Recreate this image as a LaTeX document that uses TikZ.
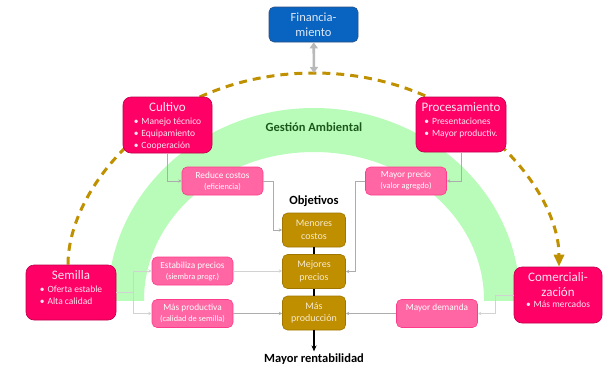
\documentclass[tikz,border=0pt]{standalone}
\usepackage{fontspec}
\setmainfont{Carlito}
\usepackage{tikz}
\usetikzlibrary{arrows.meta,backgrounds}

\definecolor{pinkmain}{RGB}{255,0,102}
\definecolor{pinkedge}{RGB}{190,0,75}
\definecolor{pinktext}{RGB}{255,228,240}
\definecolor{pinklight}{RGB}{255,102,163}
\definecolor{pinkline}{RGB}{255,60,140}
\definecolor{goldbox}{RGB}{191,143,0}
\definecolor{goldedge}{RGB}{160,118,0}
\definecolor{goldtext}{RGB}{248,234,205}
\definecolor{bluebox}{RGB}{8,99,193}
\definecolor{blueedge}{RGB}{47,82,130}
\definecolor{bluetext}{RGB}{221,232,246}
\definecolor{greenband}{RGB}{185,252,185}
\definecolor{greentext}{RGB}{28,88,28}
\definecolor{dashgold}{RGB}{191,144,0}

\tikzset{
  mainbox/.style={draw=pinkedge, line width=0.6pt, fill=pinkmain, text=pinktext,
                  rounded corners=8pt, inner sep=0pt},
  lightbox/.style={draw=pinkline, line width=0.6pt, fill=pinklight, text=white,
                   rounded corners=5pt, inner sep=0pt, align=center,
                   minimum width=81pt, minimum height=28pt,
                   font=\fontsize{9.3}{11}\selectfont},
  goalbox/.style={draw=goldedge, line width=0.6pt, fill=goldbox, text=goldtext,
                  rounded corners=5pt, inner sep=0pt, align=center,
                  minimum width=63pt, minimum height=34pt,
                  font=\fontsize{10}{12.4}\selectfont},
  finbox/.style={draw=blueedge, line width=0.6pt, fill=bluebox, text=bluetext,
                 rounded corners=5pt, inner sep=0pt, align=center,
                 minimum width=89pt, minimum height=35pt,
                 font=\fontsize{12.5}{15}\selectfont},
  heading/.style={font=\bfseries\fontsize{12.5}{15}\selectfont, inner sep=2pt},
  link/.style={draw=gray!65, line width=0.7pt, -{Stealth[length=3.5pt,width=3.5pt]}},
  linklight/.style={link, draw=gray!35},
  goalline/.style={draw=black, line width=1.4pt},
  finarrow/.style={draw=gray!55, line width=2.6pt,
                   {Triangle[length=6pt,width=8pt]}-{Triangle[length=6pt,width=8pt]}},
  dasharc/.style={draw=dashgold, line width=3pt, dash pattern=on 8pt off 6pt,
                  -{Triangle[length=12pt,width=10pt]}}
}

\newcommand{\cardtext}[5]{%
  \parbox[c][#2][t]{#1}{\centering\fontsize{13}{15}\selectfont
    \rule{0pt}{14pt}#3\par\vspace{#4}%
    {\fontsize{9.5}{11.7}\selectfont\begin{tabular}[t]{@{}l@{}}#5\end{tabular}\par}}}
\newcommand{\itm}{\textbullet\hspace{3pt}}
\newcommand{\subline}[1]{{\fontsize{8.3}{10}\selectfont #1}}

\begin{document}
\begin{tikzpicture}[x=1pt, y=-1pt]
        \useasboundingbox (0,0) rectangle (603,370);

        \node[finbox]   (fin)      at (313.5,24.5) {Financia-\\miento};            %Finanzas
        \coordinate     (arctop)   at (314,73);                                    %

        \node[mainbox]  (cultivo)  at (167.5,125)  {\cardtext{89pt}{56pt}{Cultivo}{2pt}%
                          {\itm Manejo técnico\\ \itm Equipamiento\\ \itm Cooperación}};
        \node[mainbox]  (proc)     at (461,124.5)  {\cardtext{90pt}{55pt}{Procesamiento}{1.6pt}%
                          {\itm Presentaciones\\ \itm Mayor productiv.}};
        \node[mainbox]  (semilla)  at (71,292.5)   {\cardtext{90pt}{55pt}{Semilla}{2pt}%
                          {\itm Oferta estable\\ \itm Alta calidad}};
        \node[mainbox]  (comer)    at (558,295)    {\cardtext{88pt}{56pt}{Comerciali-\\zación}{0pt}%
                          {\itm Más mercados}};

        \node[lightbox] (reduce)   at (222.5,181)  {Reduce costos\\\subline{(eficiencia)}};
        \node[lightbox] (precio)   at (406,181)    {Mayor precio\\\subline{(valor agregdo)}};
        \node[lightbox] (estab)    at (192.5,271)  {Estabiliza precios\\\subline{(siembra progr.)}};
        \node[lightbox] (masprod)  at (192.5,313.5){Más productiva\\\subline{(calidad de semilla)}};
        \node[lightbox] (demanda)  at (437,313.5)  {Mayor demanda\\\subline{\phantom{(x)}}};

        \node[heading, text=greentext] (gestion) at (314,127) {Gestión Ambiental};  %
        \node[heading]  (objetivos) at (314,201)   {Objetivos};                      %
        \node[goalbox]  (menores)  at (314,230)    {Menores\\costos};                %
        \node[goalbox]  (mejores)  at (314,271.5)  {Mejores\\precios};               %
        \node[goalbox]  (produccion) at (314,313)  {Más\\producción};                %
        \node[heading]  (rent)     at (314,359)    {Mayor rentabilidad};             %

        \begin{scope}[on background layer]
          \begin{scope}
            \clip (0,0) rectangle (603,300);
            \fill[greenband, even odd rule] (314,300) ellipse [x radius=206, y radius=192]
                                            (314,300) ellipse [x radius=170, y radius=148];
          \end{scope}
          \draw[dasharc] ([xshift=-3pt]semilla.north) .. controls +(0,-80) and +(-150,0) .. (arctop)
                         .. controls +(150,0) and +(0,-80) .. ([xshift=1pt]comer.north);
        \end{scope}

        \draw[finarrow]  (fin) -- (arctop);                                          %
        \draw[link]      (cultivo) |- (reduce);                                      %
        \draw[link]      (proc) |- (precio);                                         %
        \draw[link]      (reduce.east) -- ++(10,0) |- (menores);                     %
        \draw[link]      (precio.west) -- ++(-10,0) |- (mejores);                    %
        \draw[linklight] (semilla.east) -- ++(17,0) |- (estab);                      %
        \draw[linklight] (semilla.east) -- ++(17,0) |- (masprod);                    %
        \draw[linklight] (estab.east) -- (estab.east -| mejores.west);               %
        \draw[link]      (masprod.east) -- (masprod.east -| produccion.west);        %
        \draw[linklight] (comer.west) -- ++(-18,0) |- (demanda);                     %
        \draw[link]      (demanda.west) -- (demanda.west -| produccion.east);        %
        \draw[goalline]  (menores) -- (mejores);                                     %
        \draw[goalline]  (mejores) -- (produccion);                                  %
        \draw[goalline, -{Stealth[length=6pt,width=5pt]}] (produccion) -- (rent);    %
\end{tikzpicture}
\end{document}
